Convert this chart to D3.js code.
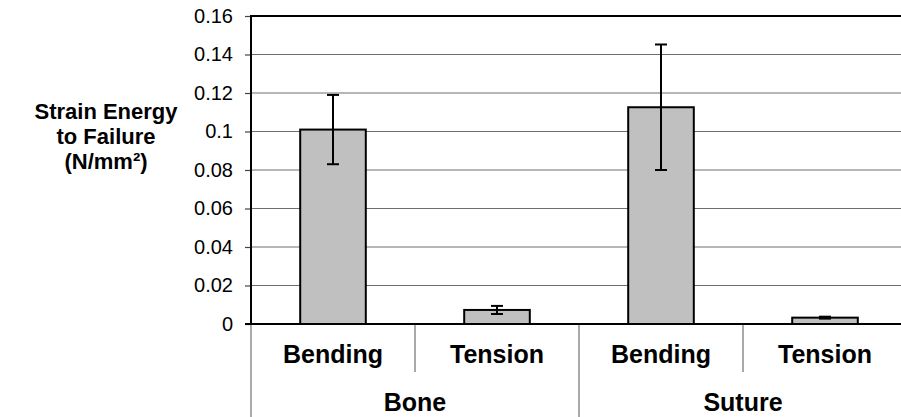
<!DOCTYPE html>
<html>
<head>
<meta charset="utf-8">
<script src="https://cdn.jsdelivr.net/npm/d3@7"></script>
<style>
  body { margin: 0; background: #fff; }
  svg text { font-family: "Liberation Sans", Arial, sans-serif; fill: #000; }
</style>
</head>
<body>
<svg id="chart"></svg>
<script>
const WIDTH = 901,
    HEIGHT = 417;

// data
const groups = ['Bone', 'Suture'];
const tests = ['Bending', 'Tension'];
const means = [0.101, 0.0073, 0.1126, 0.0033];
const errors = [0.018, 0.0021, 0.0326, 0.0005];
const yTicks = [0, 0.02, 0.04, 0.06, 0.08, 0.1, 0.12, 0.14, 0.16];
const yLabel = ['Strain Energy', 'to Failure', '(N/mm²)'];

const bars = [];
groups.forEach((g, gi) => tests.forEach((t, ti) => {
    const i = gi * tests.length + ti;
    bars.push({ key: g + '-' + t, group: g, test: t, mean: means[i], err: errors[i] });
}));

const plotLeft = 251, plotRight = 907, plotTop = 16, zeroY = 324;

const x = d3.scaleBand()
    .domain(bars.map(d => d.key))
    .range([plotLeft, plotRight])
    .padding(0);

const y = d3.scaleLinear()
    .domain([0, 0.16])
    .range([zeroY, plotTop]);

const svg = d3.select('svg#chart')
    .attr('width', WIDTH)
    .attr('height', HEIGHT);

// gridlines
svg.append('g')
    .selectAll('line')
    .data(yTicks.filter(d => d > 0 && d < 0.16))
    .enter().append('line')
        .attr('x1', plotLeft).attr('x2', WIDTH)
        .attr('y1', d => y(d)).attr('y2', d => y(d))
        .attr('stroke', '#6e6e6e')
        .attr('stroke-width', 1);

// top border
svg.append('line')
    .attr('x1', plotLeft - 1).attr('x2', WIDTH)
    .attr('y1', y(0.16)).attr('y2', y(0.16))
    .attr('stroke', '#000')
    .attr('stroke-width', 2);

// y axis
const yAxis = svg.append('g')
    .attr('transform', `translate(${plotLeft},0)`)
    .call(d3.axisLeft(y)
        .tickValues(yTicks)
        .tickSize(6)
        .tickPadding(12)
        .tickFormat(d => d === 0 ? '0' : String(+d.toFixed(2))));
yAxis.select('.domain').remove();
yAxis.selectAll('.tick line').attr('stroke', '#444').attr('stroke-width', 1.2);
yAxis.selectAll('.tick text')
    .style('font-size', '20px')
    .style('font-family', '"Liberation Sans", Arial, sans-serif')
    .attr('fill', '#000');

// bars
const barW = x.bandwidth() * 0.4;
svg.append('g')
    .selectAll('rect')
    .data(bars)
    .enter().append('rect')
        .attr('x', d => x(d.key) + (x.bandwidth() - barW) / 2)
        .attr('y', d => y(d.mean))
        .attr('width', barW)
        .attr('height', d => y(0) - y(d.mean))
        .attr('fill', '#c0c0c0')
        .attr('stroke', '#000')
        .attr('stroke-width', 2);

// error bars
const err = svg.append('g')
    .selectAll('g')
    .data(bars)
    .enter().append('g')
        .attr('transform', d => `translate(${x(d.key) + x.bandwidth() / 2},0)`);
err.append('line')
    .attr('y1', d => y(d.mean + d.err))
    .attr('y2', d => y(d.mean - d.err))
    .attr('stroke', '#000').attr('stroke-width', 2);
err.selectAll('.cap')
    .data(d => [d.mean + d.err, d.mean - d.err])
    .enter().append('line')
        .attr('class', 'cap')
        .attr('x1', -6).attr('x2', 6)
        .attr('y1', v => y(v)).attr('y2', v => y(v))
        .attr('stroke', '#000').attr('stroke-width', 2);

// zero line
svg.append('line')
    .attr('x1', plotLeft - 6).attr('x2', WIDTH)
    .attr('y1', y(0)).attr('y2', y(0))
    .attr('stroke', '#000')
    .attr('stroke-width', 2);

// left axis line
svg.append('line')
    .attr('x1', plotLeft).attr('x2', plotLeft)
    .attr('y1', plotTop - 1).attr('y2', zeroY)
    .attr('stroke', '#000').attr('stroke-width', 2);
svg.append('line')
    .attr('x1', plotLeft).attr('x2', plotLeft)
    .attr('y1', zeroY + 1).attr('y2', HEIGHT)
    .attr('stroke', '#aaa').attr('stroke-width', 2);

// category separators
bars.forEach((d, i) => {
    if (i === 0) return;
    const isGroup = i % tests.length === 0;
    svg.append('line')
        .attr('x1', x(d.key)).attr('x2', x(d.key))
        .attr('y1', zeroY + 1)
        .attr('y2', isGroup ? HEIGHT : 372)
        .attr('stroke', '#555').attr('stroke-width', 1);
});

// test labels
svg.append('g')
    .selectAll('text')
    .data(bars)
    .enter().append('text')
        .attr('x', d => x(d.key) + x.bandwidth() / 2)
        .attr('y', 363)
        .attr('text-anchor', 'middle')
        .style('font-size', '25px')
        .style('font-weight', 'bold')
        .text(d => d.test);

// group labels
svg.append('g')
    .selectAll('text')
    .data(groups)
    .enter().append('text')
        .attr('x', (g, gi) => {
            const first = x(bars[gi * tests.length].key);
            const last = x(bars[gi * tests.length + tests.length - 1].key) + x.bandwidth();
            return (first + last) / 2;
        })
        .attr('y', 411)
        .attr('text-anchor', 'middle')
        .style('font-size', '25px')
        .style('font-weight', 'bold')
        .text(g => g);

// y axis title
svg.append('g')
    .selectAll('text')
    .data(yLabel)
    .enter().append('text')
        .attr('x', 106)
        .attr('y', (d, i) => 119 + i * 25)
        .attr('text-anchor', 'middle')
        .style('font-size', '22px')
        .style('font-weight', 'bold')
        .text(d => d);
</script>
</body>
</html>
